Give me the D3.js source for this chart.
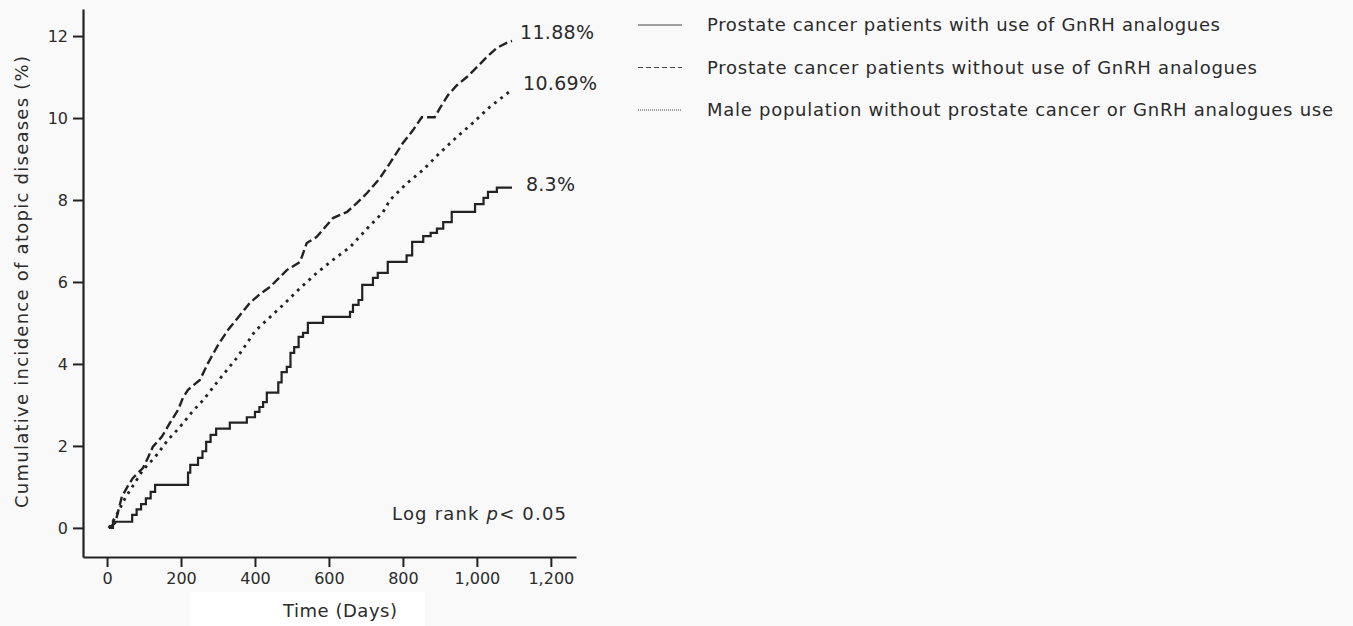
<!DOCTYPE html>
<html>
<head>
<meta charset="utf-8">
<script src="https://cdn.jsdelivr.net/npm/d3@7"></script>
<style>
  body { margin: 0; background: #f9f9f9; }
  svg { display: block; font-family: "DejaVu Sans", "Noto Sans", sans-serif; }
</style>
</head>
<body>
<svg id="chart" width="1353" height="626"></svg>
<script>
// days / cumulative incidence (%)
var withGnRH = [[5,0],[16,0.15],[68,0.32],[80,0.45],[92,0.58],[105,0.72],[118,0.88],[130,1.05],[219,1.35],[225,1.54],
  [246,1.71],[258,1.87],[268,2.1],[280,2.27],[295,2.42],[332,2.57],[378,2.7],[400,2.83],[412,2.95],[422,3.07],
  [432,3.3],[463,3.55],[472,3.8],[486,3.93],[496,4.27],[506,4.41],[518,4.66],[530,4.76],[543,5.0],[584,5.15],
  [657,5.27],[665,5.44],[680,5.56],[690,5.93],[719,6.1],[732,6.22],[759,6.49],[810,6.65],[825,6.98],[855,7.12],
  [875,7.2],[892,7.3],[909,7.46],[932,7.71],[995,7.9],[1018,8.05],[1030,8.2],[1054,8.3],[1095,8.3]];
var withoutGnRH = [[5,0],[22,0.12],[30,0.4],[40,0.76],[55,1.0],[70,1.22],[97,1.46],[110,1.7],[124,1.98],[148,2.22],
  [170,2.56],[192,2.88],[205,3.17],[219,3.37],[251,3.61],[273,4.02],[300,4.46],[327,4.83],[356,5.15],[386,5.49],
  [413,5.7],[441,5.88],[486,6.29],[522,6.49],[540,6.95],[567,7.1],[611,7.56],[649,7.71],[676,7.93],[703,8.17],
  [735,8.5],[765,8.9],[800,9.39],[827,9.7],[851,10.02],[886,10.02],[900,10.24],[922,10.56],[946,10.8],[973,11.0],
  [1000,11.24],[1027,11.49],[1054,11.71],[1084,11.85],[1095,11.88]];
var malePop = [[5,0],[25,0.3],[49,0.73],[97,1.41],[130,1.73],[165,2.15],[197,2.46],[230,2.83],[260,3.12],[292,3.49],
  [324,3.85],[351,4.15],[378,4.5],[400,4.8],[432,5.07],[476,5.44],[522,5.85],[567,6.22],[611,6.54],[657,6.85],
  [703,7.3],[746,7.7],[765,8.0],[811,8.41],[854,8.73],[900,9.15],[946,9.54],[989,9.88],[1035,10.27],[1095,10.69]];

var xTicks = [0, 200, 400, 600, 800, 1000, 1200];
var yTicks = [0, 2, 4, 6, 8, 10, 12];
var endLabels = ["11.88%", "10.69%", "8.3%"];
var legendLabels = ["Prostate cancer patients with use of GnRH analogues",
  "Prostate cancer patients without use of GnRH analogues",
  "Male population without prostate cancer or GnRH analogues use"];

var svg = d3.select("#chart");
var ink = "#222";
var txt = "#2b2b2b";

var x = d3.scaleLinear().domain([-65, 1268]).range([83, 576]);
var y = d3.scaleLinear().domain([-0.71, 12.66]).range([557, 9]);

// white patch behind the x title, as in the scan
svg.append("rect").attr("x", 190).attr("y", 592).attr("width", 235).attr("height", 34).attr("fill", "#fff");

var xAxis = svg.append("g").attr("transform", "translate(0,557)")
  .call(d3.axisBottom(x).tickValues(xTicks).tickFormat(d3.format(",")).tickSize(10).tickSizeOuter(0).tickPadding(6));
var yAxis = svg.append("g").attr("transform", "translate(83,0)")
  .call(d3.axisLeft(y).tickValues(yTicks).tickSize(10).tickSizeOuter(0).tickPadding(5));

[xAxis, yAxis].forEach(function(g) {
  g.select(".domain").attr("stroke", ink).attr("stroke-width", 2.2);
  g.selectAll(".tick line").attr("stroke", ink).attr("stroke-width", 2);
  g.selectAll(".tick text").attr("fill", txt).style("font-size", "16px")
    .style("font-family", "'DejaVu Sans', sans-serif");
});

svg.append("text").attr("x", 340).attr("y", 617).attr("text-anchor", "middle")
  .attr("fill", txt).style("font-size", "18px").attr("textLength", 114).text("Time (Days)");
svg.append("text").attr("transform", "translate(28,282) rotate(-90)").attr("text-anchor", "middle")
  .attr("fill", txt).style("font-size", "18px").attr("textLength", 452).text("Cumulative incidence of atopic diseases (%)");

var line = d3.line().x(function(d) { return x(d[0]); }).y(function(d) { return y(d[1]); });

svg.append("path").datum(malePop)
  .attr("d", line.curve(d3.curveLinear))
  .attr("fill", "none").attr("stroke", ink).attr("stroke-width", 2.8)
  .attr("stroke-dasharray", "2.8,5");
svg.append("path").datum(withoutGnRH)
  .attr("d", line.curve(d3.curveLinear))
  .attr("fill", "none").attr("stroke", ink).attr("stroke-width", 2.4)
  .attr("stroke-dasharray", "9,4");
svg.append("path").datum(withGnRH)
  .attr("d", line.curve(d3.curveStepAfter))
  .attr("fill", "none").attr("stroke", ink).attr("stroke-width", 2.2);

// end-of-follow-up labels
var endY = [32, 83, 184];
var endX = [520, 523, 526];
var endW = [74, 74, 49];
svg.selectAll(".endlab").data(endLabels).enter().append("text")
  .attr("class", "endlab")
  .attr("x", function(d, i) { return endX[i]; })
  .attr("y", function(d, i) { return endY[i]; })
  .attr("dy", "0.35em")
  .attr("textLength", function(d, i) { return endW[i]; })
  .attr("fill", txt).style("font-size", "19px")
  .text(function(d) { return d; });

var lr = svg.append("text").attr("x", 392).attr("y", 520).attr("fill", txt)
  .attr("textLength", 174).style("font-size", "18px");
lr.append("tspan").text("Log rank ");
lr.append("tspan").style("font-style", "italic").text("p");
lr.append("tspan").text("< 0.05");

// legend
var dashes = [null, "5,3", "1,1"];
var legendW = [513, 550, 626];
var lg = svg.selectAll(".lg").data(legendLabels).enter().append("g")
  .attr("class", "lg")
  .attr("transform", function(d, i) { return "translate(0," + (25 + i * 42.5) + ")"; });
lg.append("line").attr("x1", 638).attr("x2", 682).attr("y1", 0).attr("y2", 0)
  .attr("stroke", "#444").attr("stroke-width", 1.2)
  .attr("stroke-dasharray", function(d, i) { return dashes[i]; });
lg.append("text").attr("x", 707).attr("dy", "0.35em").attr("fill", txt)
  .attr("textLength", function(d, i) { return legendW[i]; })
  .style("font-size", "18px").text(function(d) { return d; });
</script>
</body>
</html>
